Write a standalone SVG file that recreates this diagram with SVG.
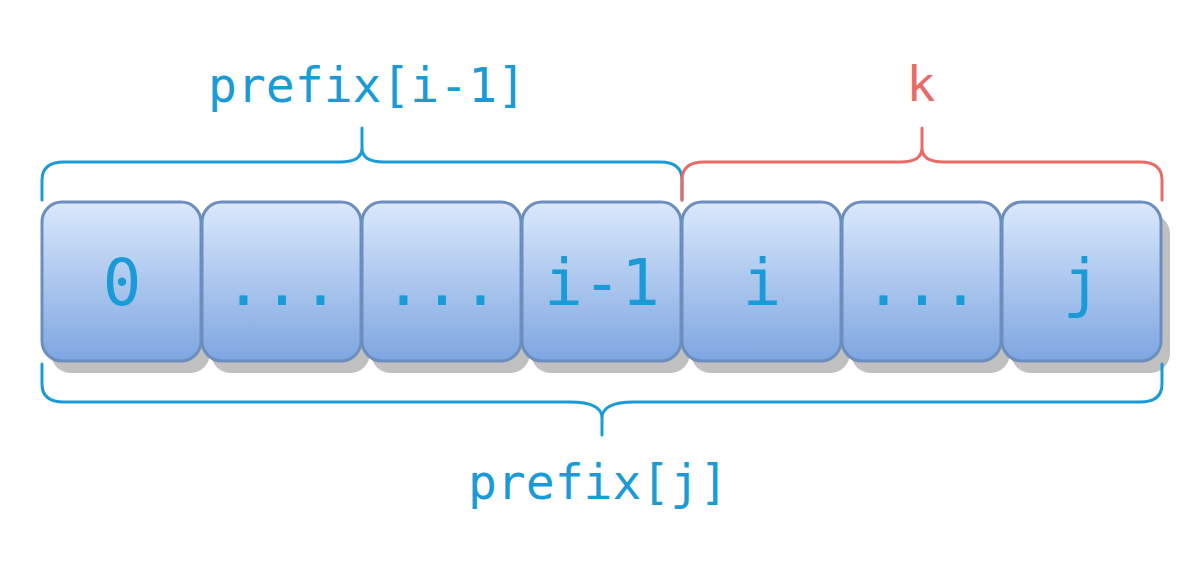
<svg xmlns="http://www.w3.org/2000/svg" width="1204" height="564" viewBox="0 0 1204 564">
<defs>
<linearGradient id="g" x1="0" y1="0" x2="0" y2="1">
<stop offset="0" stop-color="#dae8fc"/>
<stop offset="1" stop-color="#7ea6e0"/>
</linearGradient>
<style>
.sh{fill:#c0c0c0}
.box{fill:url(#g);stroke:#6c8ebf;stroke-width:3}
.t{font-family:"DejaVu Sans Mono","Liberation Mono",monospace;fill:#1a9bd7;text-anchor:middle}
.bt{font-size:64px}
.lt{font-size:48px}
.br{fill:none;stroke-width:3;stroke-linecap:round;stroke-linejoin:round}
.blue{stroke:#1a9bd7}
.red{stroke:#ea6b66}
</style>
</defs>
<rect width="1204" height="564" fill="#ffffff"/>
<g id="shadows">
<rect class="sh" x="51" y="214" width="159" height="159" rx="20"/>
<rect class="sh" x="211" y="214" width="159" height="159" rx="20"/>
<rect class="sh" x="371" y="214" width="159" height="159" rx="20"/>
<rect class="sh" x="531" y="214" width="159" height="159" rx="20"/>
<rect class="sh" x="691" y="214" width="159" height="159" rx="20"/>
<rect class="sh" x="851" y="214" width="159" height="159" rx="20"/>
<rect class="sh" x="1011" y="214" width="159" height="159" rx="20"/>
</g>
<g id="n0"><rect class="box" x="42" y="202" width="159" height="159" rx="20"/><text class="t bt" x="122" y="305">0</text></g>
<g id="n1"><rect class="box" x="202" y="202" width="159" height="159" rx="20"/><text class="t bt" x="282" y="305">...</text></g>
<g id="n2"><rect class="box" x="362" y="202" width="159" height="159" rx="20"/><text class="t bt" x="442" y="305">...</text></g>
<g id="n3"><rect class="box" x="522" y="202" width="159" height="159" rx="20"/><text class="t bt" x="602" y="305">i-1</text></g>
<g id="n4"><rect class="box" x="682" y="202" width="159" height="159" rx="20"/><text class="t bt" x="762" y="305">i</text></g>
<g id="n5"><rect class="box" x="842" y="202" width="159" height="159" rx="20"/><text class="t bt" x="922" y="305">...</text></g>
<g id="n6"><rect class="box" x="1002" y="202" width="159" height="159" rx="20"/><text class="t bt" x="1082" y="305">j</text></g>
<g id="connectors">
<path class="br blue" d="M42,200 L42,180 Q42,162 64,162 L340,162 Q362,162 362,148 L362,128 M362,148 Q362,162 384,162 L660,162 Q682,162 682,180 L682,200"/>
<path class="br red" d="M682,200 L682,180 Q682,162 704,162 L900,162 Q922,162 922,148 L922,128 M922,148 Q922,162 944,162 L1140,162 Q1162,162 1162,180 L1162,200"/>
<path class="br blue" d="M42,364 L42,384 Q42,402 64,402 L570,402 Q602,402 602,418 L602,435 M602,418 Q602,402 634,402 L1140,402 Q1162,402 1162,384 L1162,364"/>
</g>
<g id="labels">
<text class="t lt" x="367" y="102">prefix[i-1]</text>
<text class="t lt" x="921" y="101" fill="#ea6b66" style="fill:#ea6b66">k</text>
<text class="t lt" x="598" y="499">prefix[j]</text>
</g>
</svg>
